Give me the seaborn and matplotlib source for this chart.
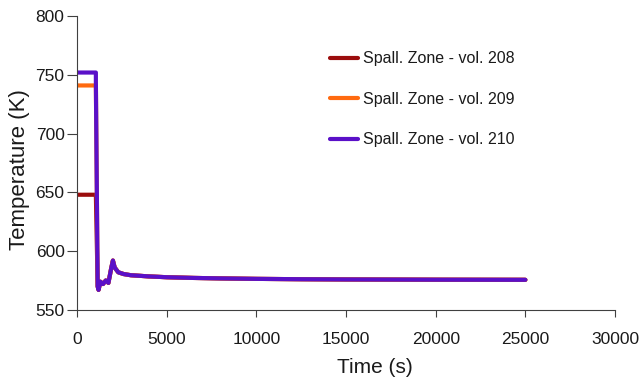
import pandas as pd
import matplotlib.pyplot as plt
import seaborn as sns

# Time (s) and temperature (K)
t_common = [1050, 1150, 1200, 1300, 1450, 1600, 1750, 1900, 2000, 2100, 2300, 2600, 3000, 4000, 5000, 6500, 8000, 10000, 12500, 15000, 20000, 25000]
T_common = [745, 570, 567, 574, 572, 575, 573, 585, 592, 586, 582, 580.5, 579.5, 578.5, 577.8, 577.2, 576.8, 576.4, 576.1, 575.9, 575.7, 575.6]

t_208 = [0, 1050] + t_common[1:]
T_208 = [648, 648] + T_common[1:]
t_209 = [0, 1050] + t_common[1:]
T_209 = [741, 741] + T_common[1:]
t_210 = [0, 1050] + t_common
T_210 = [752, 752] + T_common

labels = ["Spall. Zone - vol. 208", "Spall. Zone - vol. 209", "Spall. Zone - vol. 210"]
colors = ["#9b0d0d", "#ff6a10", "#5a10c8"]

df = pd.concat([
    pd.DataFrame({"time": t_208, "temp": T_208, "series": labels[0]}),
    pd.DataFrame({"time": t_209, "temp": T_209, "series": labels[1]}),
    pd.DataFrame({"time": t_210, "temp": T_210, "series": labels[2]}),
])

sns.set_style("ticks", {"axes.edgecolor": "0.25", "xtick.color": "0.25", "ytick.color": "0.25",
                        "text.color": "0.1", "axes.labelcolor": "0.1"})
plt.rcParams['font.family'] = ['Liberation Sans', 'DejaVu Sans']

fig, ax = plt.subplots(figsize=(6.42, 3.84), dpi=100)
fig.subplots_adjust(left=0.12, right=0.958, bottom=0.193, top=0.958)

sns.lineplot(data=df, x="time", y="temp", hue="series", palette=colors,
             estimator=None, sort=False, linewidth=3, ax=ax)

ax.set_xlim(0, 30000)
ax.set_ylim(550, 800)
ax.set_xticks(range(0, 30001, 5000))
ax.set_yticks(range(550, 801, 50))
ax.set_xlabel("Time (s)", fontsize=15)
ax.set_ylabel("Temperature (K)", fontsize=16)
ax.xaxis.set_label_coords(0.554, -0.163)
ax.yaxis.set_label_coords(-0.087, 0.476)
ax.tick_params(axis="x", labelsize=12.5, direction="out", length=5, pad=11, labelcolor="0.1")
ax.tick_params(axis="y", labelsize=12.5, direction="out", length=7, pad=2, labelcolor="0.1")
sns.despine(ax=ax)

leg = ax.legend(loc="upper left", bbox_to_anchor=(0.47, 0.88), frameon=False,
                fontsize=11.5, labelspacing=1.6, handlelength=1.75, handletextpad=0.3,
                borderpad=0, borderaxespad=0)
for line in leg.get_lines():
    line.set_linewidth(3)

fig.savefig("out.png")
